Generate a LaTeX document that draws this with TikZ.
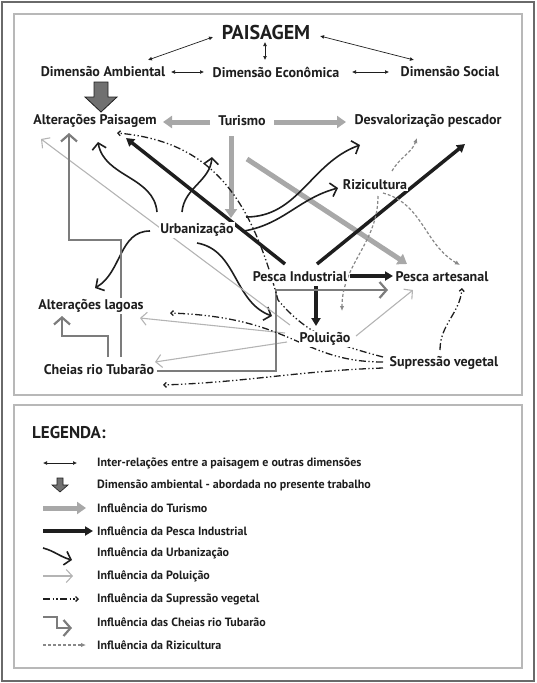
\documentclass[tikz,border=0pt]{standalone}
\usepackage{fontspec}
\setmainfont{PT Sans}
\usepackage{xcolor}
\usetikzlibrary{positioning,calc,arrows.meta,backgrounds}
\definecolor{ink}{HTML}{1E1E1E}
\definecolor{turgray}{HTML}{A8A8A8}
\definecolor{polgray}{HTML}{B4B4B4}
\definecolor{cheigray}{HTML}{7C7C7C}
\definecolor{rizgray}{HTML}{888888}
\definecolor{dimgray}{HTML}{707070}
\definecolor{framegray}{HTML}{B8B8B8}
\definecolor{outergray}{HTML}{6A6A6A}

\begin{document}
\begin{tikzpicture}[x=1pt, y=1pt, >=latex]
    \tikzstyle{lbl} = [font=\bfseries\fontsize{14}{16}\selectfont, text=ink, inner sep=1pt, fill=white]
    \tikzstyle{leg} = [font=\bfseries\fontsize{12}{14}\selectfont, text=ink, anchor=west, inner sep=0pt]
    \tikzstyle{inter} = [{Latex[length=4pt,width=4pt]}-{Latex[length=4pt,width=4pt]}, line width=0.7pt, ink]
    \tikzstyle{dimarrow} = [draw=ink, line width=0.8pt, fill=dimgray]
    \tikzstyle{tur} = [-{Triangle[length=9pt,width=12pt]}, line width=5pt, turgray]
    \tikzstyle{pind} = [-{Triangle[length=8pt,width=9pt]}, line width=3.5pt, ink]
    \tikzstyle{urb} = [-{Straight Barb[length=6pt,width=14pt]}, line width=1.6pt, ink]
    \tikzstyle{pol} = [-{Straight Barb[length=6pt,width=13pt]}, line width=1.1pt, polgray]
    \tikzstyle{chei} = [-{Straight Barb[length=7pt,width=16pt]}, line width=2.2pt, cheigray]
    \tikzstyle{supv} = [-{Straight Barb[length=2.5pt,width=5pt]}, line width=1.3pt, ink, dash pattern=on 7pt off 2.5pt on 1.3pt off 2.5pt on 1.3pt off 2.5pt]
    \tikzstyle{rizi} = [-{Latex[length=5pt,width=4.5pt]}, line width=1.2pt, rizgray, dash pattern=on 3pt off 2pt]

    \useasboundingbox (0,0) rectangle (536,-683);

    % diagram
    \node[font=\bfseries\fontsize{20}{22}\selectfont, text=ink, inner sep=1pt] (paisagem) at (266,-32) {PAISAGEM};
    \node[lbl] (ambiental) at (103,-72) {Dimensão Ambiental};
    \node[lbl] (economica) at (276,-72) {Dimensão Econômica};
    \node[lbl] (social) at (450,-72) {Dimensão Social};
    \node[lbl] (altpais) at (95,-121) {Alterações Paisagem};
    \node[lbl] (turismo) at (242,-121) {Turismo};
    \node[lbl] (desval) at (428,-121) {Desvalorização pescador};
    \node[lbl] (rizi) at (375,-185) {Rizicultura};
    \node[lbl] (urban) at (197,-230) {Urbanização};
    \node[lbl] (pescaind) at (300,-277) {Pesca Industrial};
    \node[lbl] (pescaart) at (442,-277) {Pesca artesanal};
    \node[lbl] (altlag) at (91,-306) {Alterações lagoas};
    \node[lbl] (polui) at (325,-339) {Poluição};
    \node[lbl] (cheias) at (99,-370) {Cheias rio Tubarão};
    \node[lbl] (supveg) at (444,-363) {Supressão vegetal};

    % legend
    \node[font=\bfseries\fontsize{17}{19}\selectfont, text=ink, anchor=west, inner sep=0pt] (legenda) at (32,-433) {LEGENDA:};
    \node[leg] (lginter) at (97,-463) {Inter-relações entre a paisagem e outras dimensões};
    \node[leg] (lgdim) at (97,-485) {Dimensão ambiental - abordada no presente trabalho};
    \node[leg] (lgtur) at (97,-508) {Influência do Turismo};
    \node[leg] (lgpind) at (97,-531) {Influência da Pesca Industrial};
    \node[leg] (lgurb) at (97,-553) {Influência da Urbanização};
    \node[leg] (lgpol) at (97,-576) {Influência da Poluição};
    \node[leg] (lgsup) at (97,-599) {Influência da Supressão vegetal};
    \node[leg] (lgchei) at (97,-622) {Influência das Cheias rio Tubarão};
    \node[leg] (lgriz) at (97,-645) {Influência da Rizicultura};

    \begin{scope}[on background layer]
    \draw[outergray, line width=1.5pt] (2,-2) rectangle (534,-681);
    \draw[framegray, line width=2pt] (14,-14) rectangle (522,-395);
    \draw[framegray, line width=2pt] (14,-405) rectangle (522,-668);

    % inter-relations
    \draw[inter] ($(paisagem)+(-53,-5)$) -- ($(ambiental)+(45,12)$);
    \draw[inter] ($(paisagem)+(-1,-10)$) -- ($(economica)+(-11,12)$);
    \draw[inter] ($(paisagem)+(54,-4)$) -- ($(social)+(-36,12)$);
    \draw[inter] ($(ambiental)+(68,0)$) -- ($(economica)+(-72,0)$);
    \draw[inter] ($(economica)+(76,0)$) -- ($(social)+(-61,0)$);
    \draw[dimarrow] ($(ambiental)+(-9,-10)$) -- ++(14,0) -- ++(0,-15) -- ++(9,0) -- ++(-16,-15) -- ++(-16,15) -- ++(9,0) -- cycle;

    % turismo
    \draw[tur] ($(turismo)+(-32,-1)$) -- ($(altpais)+(68,-1)$);
    \draw[tur] ($(turismo)+(32,-1)$) -- ($(desval)+(-82,-1)$);
    \draw[tur] ($(turismo)+(-11,-15)$) -- ($(urban)+(34,12)$);
    \draw[tur] ($(turismo)+(5,-38)$) -- ($(pescaart)+(-35,13)$);

    % pesca industrial
    \draw[pind] ($(pescaind)+(-15,13)$) -- ($(altpais)+(31,-17)$);
    \draw[pind] ($(pescaind)+(17,13)$) -- ($(desval)+(37,-23)$);
    \draw[pind] ($(pescaind)+(50,1)$) -- ($(pescaart)+(-49,1)$);
    \draw[pind] ($(pescaind)+(16,-9)$) -- ($(polui)+(-9,13)$);

    % urbanizacao
    \draw[urb] ($(urban)+(-40,18)$) to[out=95, in=-80] ($(altpais)+(3,-21)$);
    \draw[urb] ($(urban)+(-15,18)$) to[out=85, in=-95] ($(turismo)+(-30,-36)$);
    \draw[urb] ($(urban)+(49,13)$) to[out=0, in=200] ($(desval)+(-68,-24)$);
    \draw[urb] ($(urban)+(47,-1)$) to[out=10, in=195] ($(rizi)+(-37,-3)$);
    \draw[urb] ($(urban)+(-47,-1)$) to[out=180, in=30] ($(altlag)+(4,18)$);
    \draw[urb] ($(urban)+(0,-13)$) to[out=-10, in=160] ($(polui)+(-53,23)$);

    % poluicao
    \draw[pol] ($(polui)+(-35,14)$) -- ($(altpais)+(-54,-18)$);
    \draw[pol] ($(polui)+(-40,6)$) -- ($(altlag)+(49,-12)$);
    \draw[pol] ($(polui)+(-38,-3)$) -- ($(cheias)+(56,8)$);
    \draw[pol] ($(polui)+(31,3)$) -- ($(pescaart)+(-29,-13)$);

    % cheias
    \draw[chei] ($(cheias)+(9,13)$) |- ($(altlag)+(-29,-30)$) -- ($(altlag)+(-29,-10)$);
    \draw[chei] ($(cheias)+(22,13)$) |- ($(altpais)+(-26,-119)$) -- ($(altpais)+(-26,-12)$);
    \draw[chei] ($(cheias)+(58,-1)$) -| ($(pescaind)+(-24,-13)$) -- ($(pescaart)+(-54,-13)$);

    % supressao vegetal
    \draw[supv] ($(supveg)+(-61,6)$) to[out=165, in=-50] ($(polui)+(-47,39)$) to[out=105, in=-5, looseness=1.1] ($(altpais)+(22,-12)$);
    \draw[supv] ($(supveg)+(-61,1)$) to[out=180, in=-2, out distance=83, in distance=125] ($(altlag)+(79,-7)$);
    \draw[supv] ($(supveg)+(-61,-5)$) to[out=182, in=2] ($(cheias)+(64,-15)$);
    \draw[supv] ($(supveg)+(-4,13)$) to[out=90, in=-95] ($(pescaart)+(20,-11)$);

    % rizicultura
    \draw[rizi] ($(rizi)+(17,14)$) to[out=60, in=-110] ($(desval)+(-11,-17)$);
    \draw[rizi] ($(rizi)+(8,-8)$) to[out=-15, in=150] ($(pescaart)+(18,12)$);
    \draw[rizi] ($(rizi)+(3,-11)$) to[out=-90, in=90] ($(polui)+(17,28)$);
    \end{scope}

    % legend symbols
    \draw[inter] ($(lginter.west)+(-54,0)$) -- ($(lginter.west)+(-20,0)$);
    \draw[dimarrow, line width=0.6pt] ($(lgdim.west)+(-40,7)$) -- ++(6,0) -- ++(0,-7) -- ++(5,0) -- ++(-8,-7) -- ++(-8,7) -- ++(5,0) -- cycle;
    \draw[tur] ($(lgtur.west)+(-54,0)$) -- ($(lgtur.west)+(-11,0)$);
    \draw[pind] ($(lgpind.west)+(-54,0)$) -- ($(lgpind.west)+(-4,0)$);
    \draw[urb] ($(lgurb.west)+(-54,5)$) to[out=-15, in=165] ($(lgurb.west)+(-25,-7)$);
    \draw[pol] ($(lgpol.west)+(-54,0)$) -- ($(lgpol.west)+(-24,0)$);
    \draw[supv] ($(lgsup.west)+(-54,0)$) -- ($(lgsup.west)+(-18,0)$);
    \draw[chei] ($(lgchei.west)+(-54,5)$) -- ($(lgchei.west)+(-40,5)$) -- ($(lgchei.west)+(-40,-6)$) -- ($(lgchei.west)+(-25,-6)$);
    \draw[rizi] ($(lgriz.west)+(-54,0)$) -- ($(lgriz.west)+(-11,0)$);
\end{tikzpicture}
\end{document}
